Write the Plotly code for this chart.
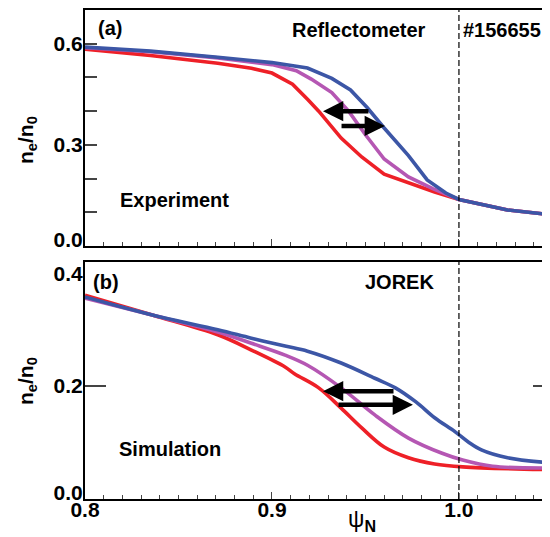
import plotly.graph_objects as go

# ---------------- data ----------------
# (a) Experiment (reflectometer)
exp_blue_x = [0.80, 0.835, 0.871, 0.90, 0.919, 0.932, 0.942, 0.951, 0.960, 0.973, 0.983, 0.993, 1.00, 1.026, 1.049]
exp_blue_y = [0.590, 0.578, 0.560, 0.544, 0.528, 0.497, 0.463, 0.410, 0.350, 0.268, 0.196, 0.157, 0.138, 0.107, 0.093]
exp_purple_x = [0.80, 0.835, 0.871, 0.90, 0.913, 0.921, 0.932, 0.941, 0.950, 0.960, 0.973, 0.986, 1.00, 1.026, 1.049]
exp_purple_y = [0.588, 0.576, 0.558, 0.538, 0.520, 0.495, 0.455, 0.400, 0.330, 0.258, 0.205, 0.170, 0.138, 0.107, 0.093]
exp_red_x = [0.80, 0.835, 0.871, 0.889, 0.90, 0.907, 0.911, 0.919, 0.925, 0.937, 0.948, 0.960, 0.973, 0.987, 1.00, 1.026, 1.049]
exp_red_y = [0.584, 0.565, 0.542, 0.527, 0.513, 0.492, 0.480, 0.435, 0.400, 0.320, 0.264, 0.213, 0.187, 0.160, 0.138, 0.107, 0.093]

# (b) Simulation (JOREK)
sim_blue_x = [0.80, 0.836, 0.871, 0.889, 0.907, 0.919, 0.937, 0.955, 0.966, 0.977, 0.987, 0.998, 1.005, 1.012, 1.026, 1.049]
sim_blue_y = [0.358, 0.326, 0.300, 0.285, 0.271, 0.262, 0.241, 0.214, 0.197, 0.172, 0.144, 0.119, 0.101, 0.087, 0.073, 0.064]
sim_purple_x = [0.80, 0.836, 0.871, 0.889, 0.907, 0.919, 0.937, 0.955, 0.973, 0.991, 1.002, 1.018, 1.049]
sim_purple_y = [0.356, 0.326, 0.296, 0.276, 0.255, 0.237, 0.197, 0.149, 0.108, 0.081, 0.069, 0.058, 0.055]
sim_red_x = [0.80, 0.836, 0.871, 0.889, 0.907, 0.912, 0.925, 0.937, 0.948, 0.960, 0.973, 0.987, 1.002, 1.049]
sim_red_y = [0.361, 0.326, 0.291, 0.264, 0.234, 0.222, 0.197, 0.161, 0.126, 0.092, 0.073, 0.062, 0.057, 0.052]

separatrix = 1.0
x_range = [0.8, 1.0487]
y_range_a = [0.0, 0.7]
y_range_b = [0.0, 0.42]
x_ticks = [0.8, 0.9, 1.0]
x_ticklabels = ["0.8", "0.9", "1.0"]
ya_ticks = [0.0, 0.3, 0.6]
ya_ticklabels = ["0.0", "0.3", "0.6"]
ya_tickmarks = [0.1, 0.2, 0.3, 0.4, 0.5, 0.6]
ya_right = [0.1, 0.2, 0.3, 0.4, 0.5, 0.6]
yb_ticks = [0.0, 0.2, 0.4]
yb_ticklabels = ["0.0", "0.2", "0.4"]
yb_marked = [0.2]

# arrows (tail -> tip) in data units
arr_a = [((0.9524, 0.400), (0.9273, 0.400)), ((0.9364, 0.356), (0.9604, 0.356))]
arr_b = [((0.9658, 0.191), (0.9273, 0.191)), ((0.9348, 0.167), (0.9754, 0.167))]

RED = "#ee2027"
PURPLE = "#b557b3"
BLUE = "#3c56a6"
FONT = "Liberation Sans"

fig = go.Figure()

def add_line(x, y, color, xa, ya, shape="linear"):
    fig.add_trace(go.Scatter(x=x, y=y, mode="lines", xaxis=xa, yaxis=ya,
                             line=dict(color=color, width=3.6, shape=shape),
                             showlegend=False, hoverinfo="skip"))

add_line(exp_red_x, exp_red_y, RED, "x", "y")
add_line(exp_purple_x, exp_purple_y, PURPLE, "x", "y")
add_line(exp_blue_x, exp_blue_y, BLUE, "x", "y")
add_line(sim_red_x, sim_red_y, RED, "x2", "y2", "spline")
add_line(sim_purple_x, sim_purple_y, PURPLE, "x2", "y2", "spline")
add_line(sim_blue_x, sim_blue_y, BLUE, "x2", "y2", "spline")

# dummy traces for tick-only overlay axes
for xa, ya in [("x", "y3"), ("x2", "y4"), ("x2", "y5"), ("x", "y6")]:
    fig.add_trace(go.Scatter(x=[None], y=[None], xaxis=xa, yaxis=ya, showlegend=False, hoverinfo="skip"))

tickfont = dict(family=FONT, size=21, color="black", weight="bold")

# page offset of the figure (browser body margin)
OFF = 8
PLOT_L, PLOT_R, PLOT_T, PLOT_B = 85, 550, 10, 499   # page pixels
W = 550 - OFF
H = 537 - OFF
ph = PLOT_B - PLOT_T
pw = PLOT_R - PLOT_L
top_bottom = (PLOT_B - 246) / ph
bot_top = (PLOT_B - 262) / ph

# the "0.0" labels sit a few pixels above the x axis in the original
lift_px = 6
lift_a = lift_px * (y_range_a[1] - y_range_a[0]) / (246 - PLOT_T)
lift_b = lift_px * (y_range_b[1] - y_range_b[0]) / (PLOT_B - 262)
ya_labelpos = [v + (lift_a if v == 0 else 0) for v in ya_ticks]
yb_labelpos = [v + (lift_b if v == 0 else 0) for v in yb_ticks]

xcommon = dict(range=x_range, showline=True, linecolor="black", linewidth=2, mirror=True,
               showgrid=False, zeroline=False, ticks="inside", ticklen=7, tickwidth=1.3,
               tickvals=x_ticks, ticktext=x_ticklabels,
               minor=dict(ticks="inside", ticklen=4, tickwidth=1.3, dtick=0.01, tick0=0.8, showgrid=False))

def tick_axis(over, side, vals, rng, length):
    return dict(overlaying=over, side=side, anchor="x" if over == "y" else "x2", range=rng,
                showline=False, showgrid=False, zeroline=False, tickvals=vals, ticks="inside",
                ticklen=length, tickwidth=1.5, showticklabels=False)

fig.update_layout(
    width=W, height=H,
    margin=dict(l=PLOT_L - OFF, r=0, t=PLOT_T - OFF, b=537 - PLOT_B),
    paper_bgcolor="white", plot_bgcolor="white",
    xaxis=dict(domain=[0, 1], anchor="y", showticklabels=False, **xcommon),
    xaxis2=dict(domain=[0, 1], anchor="y2", showticklabels=True, tickfont=tickfont,
                ticklabelstandoff=-9, **xcommon),
    yaxis=dict(domain=[top_bottom, 1], anchor="x", range=y_range_a, showline=True, linecolor="black",
               linewidth=2, showgrid=False, zeroline=False, tickvals=ya_labelpos, ticktext=ya_ticklabels,
               ticks="", tickfont=tickfont, ticklabelstandoff=-4),
    yaxis6=tick_axis("y", "left", ya_tickmarks, y_range_a, 12),
    yaxis3=tick_axis("y", "right", ya_right, y_range_a, 7),
    yaxis2=dict(domain=[0, bot_top], anchor="x2", range=y_range_b, showline=True, linecolor="black",
                linewidth=2, showgrid=False, zeroline=False, tickvals=yb_labelpos, ticktext=yb_ticklabels,
                ticks="", tickfont=tickfont, ticklabelstandoff=-4),
    yaxis4=tick_axis("y2", "left", yb_marked, y_range_b, 21),
    yaxis5=tick_axis("y2", "right", yb_marked, y_range_b, 17),
)

# separatrix dashed lines
for xr, yr in [("x", "y domain"), ("x2", "y2 domain")]:
    fig.add_shape(type="line", xref=xr, yref=yr, x0=separatrix, x1=separatrix, y0=0, y1=1,
                  line=dict(color="black", width=1.2, dash="6px,3px"))

# arrows
for arrs, xr, yr in [(arr_a, "x", "y"), (arr_b, "x2", "y2")]:
    for (tx, ty), (hx, hy) in arrs:
        fig.add_annotation(x=hx, y=hy, ax=tx, ay=ty, xref=xr, yref=yr, axref=xr, ayref=yr,
                           showarrow=True, arrowhead=2, arrowsize=0.9, arrowwidth=4.5,
                           arrowcolor="black", text="")

def px_x(px):
    return (px - PLOT_L) / pw

def px_y(py):
    return (PLOT_B - py) / ph

def label(text, cx, cy, size=20, xanchor="center", angle=0, weight="bold"):
    fig.add_annotation(x=px_x(cx), y=px_y(cy), xref="paper", yref="paper", text=text,
                       showarrow=False, xanchor=xanchor, yanchor="middle", textangle=angle,
                       font=dict(family=FONT, size=size, color="black", weight=weight))

label("(a)", 110, 28)
label("Reflectometer", 359, 30)
label("#156655", 502, 30)
label("Experiment", 174, 200)
label("(b)", 106, 282)
label("JOREK", 399, 282)
label("Simulation", 170, 449)
label("n<sub>e</sub>/n<sub>0</sub>", 27, 140, size=21, angle=-90)
label("n<sub>e</sub>/n<sub>0</sub>", 27, 381, size=21, angle=-90)
label("ψ<sub><b>N</b></sub>", 362, 520, size=23, weight="normal")

fig.write_html("out.html")
